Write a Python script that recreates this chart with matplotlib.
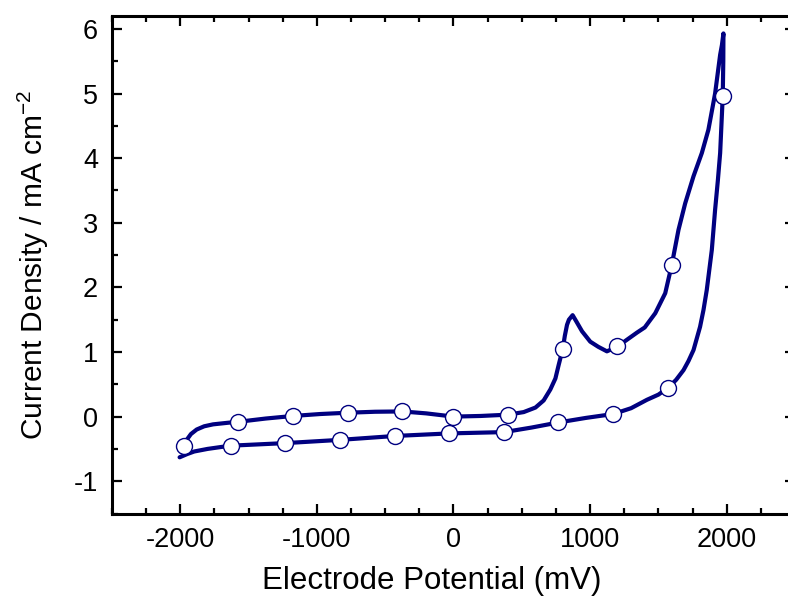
import matplotlib
matplotlib.use('Agg')
import matplotlib.pyplot as plt
from matplotlib.ticker import MultipleLocator

# Forward scan (lower branch), mV / mA cm-2
fwd_x = [-2005, -1950, -1898, -1800, -1700, -1630, -1430, -1230, -1030, -830,
         -630, -430, -230, -30, 170, 370, 570, 770, 970, 1170,
         1300, 1416, 1500, 1574, 1630, 1684, 1720, 1757, 1805, 1830,
         1854, 1891, 1915, 1935, 1952, 1971, 1975, 1976]
fwd_y = [-0.63, -0.58, -0.54, -0.50, -0.47, -0.45, -0.43, -0.41, -0.385, -0.36,
         -0.33, -0.30, -0.28, -0.26, -0.25, -0.24, -0.17, -0.09, -0.02, 0.04,
         0.13, 0.26, 0.34, 0.45, 0.57, 0.72, 0.86, 1.03, 1.39, 1.65,
         1.96, 2.58, 3.20, 3.65, 4.08, 4.96, 5.50, 5.93]

# Reverse scan (upper branch)
rev_x = [1976, 1965, 1952, 1915, 1866, 1818, 1757, 1696, 1647, 1598,
         1550, 1477, 1400, 1343, 1270, 1197, 1123, 1060, 1001, 941,
         900, 872, 845, 831, 815, 800, 770, 746, 709, 660,
         600, 514, 400, 200, 0, -200, -375, -575, -775, -975,
         -1175, -1375, -1574, -1650, -1760, -1825, -1880, -1922, -1960, -1985]
rev_y = [5.93, 5.75, 5.60, 5.00, 4.44, 4.08, 3.72, 3.30, 2.89, 2.35,
         1.91, 1.60, 1.38, 1.30, 1.19, 1.08, 1.01, 1.08, 1.16, 1.32,
         1.47, 1.57, 1.50, 1.42, 1.25, 1.05, 0.80, 0.59, 0.42, 0.25,
         0.14, 0.07, 0.03, 0.01, 0.00, 0.05, 0.08, 0.075, 0.06, 0.04,
         0.01, -0.03, -0.08, -0.095, -0.12, -0.15, -0.20, -0.27, -0.38, -0.50]

# open circle markers
mark_fwd_x = [-1630, -1230, -831, -431, -31, 368, 768, 1167, 1572, 1971]
mark_fwd_y = [-0.45, -0.41, -0.36, -0.30, -0.26, -0.24, -0.09, 0.04, 0.45, 4.96]
mark_rev_x = [1596, 1197, 800, 397, -2, -375, -775, -1175, -1574, -1971]
mark_rev_y = [2.34, 1.09, 1.05, 0.03, 0.0, 0.084, 0.062, 0.011, -0.077, -0.45]

navy = '#000080'

plt.rcParams['font.family'] = ['Liberation Sans', 'DejaVu Sans']
plt.rcParams['axes.unicode_minus'] = False
plt.rcParams['mathtext.fontset'] = 'custom'
plt.rcParams['mathtext.rm'] = 'Liberation Sans'
plt.rcParams['mathtext.it'] = 'Liberation Sans'

fig = plt.figure(figsize=(7.88, 5.99), dpi=100)
ax = fig.add_axes([0.1421, 0.1427, 0.8668, 0.8306])

ax.plot(fwd_x + rev_x, fwd_y + rev_y, color=navy, lw=3.0,
        solid_capstyle='round', solid_joinstyle='round', zorder=2)
ax.plot(mark_fwd_x + mark_rev_x, mark_fwd_y + mark_rev_y, ls='none',
        marker='o', ms=11.5, mfc='white', mec=navy, mew=1.0, zorder=3)

ax.set_xlim(-2500, 2500)
ax.set_ylim(-1.5, 6.2)
ax.xaxis.set_major_locator(MultipleLocator(1000))
ax.xaxis.set_minor_locator(MultipleLocator(250))
ax.yaxis.set_major_locator(MultipleLocator(1))
ax.yaxis.set_minor_locator(MultipleLocator(0.5))

ax.tick_params(which='both', direction='in', top=True, right=True, width=1.6)
ax.tick_params(which='major', length=7, labelsize=19.5)
ax.tick_params(axis='x', which='major', pad=10)
ax.tick_params(axis='y', which='major', pad=10)
ax.tick_params(which='minor', length=4)
for s in ax.spines.values():
    s.set_linewidth(2.2)

ax.set_xlabel('Electrode Potential (mV)', fontsize=22.5, labelpad=8)
ax.xaxis.set_label_coords(0.4685, -0.105)
ax.set_ylabel('Current Density / mA cm$^{\\mathrm{-2}}$', fontsize=21.5, labelpad=16)

fig.savefig('out.png', dpi=100)
